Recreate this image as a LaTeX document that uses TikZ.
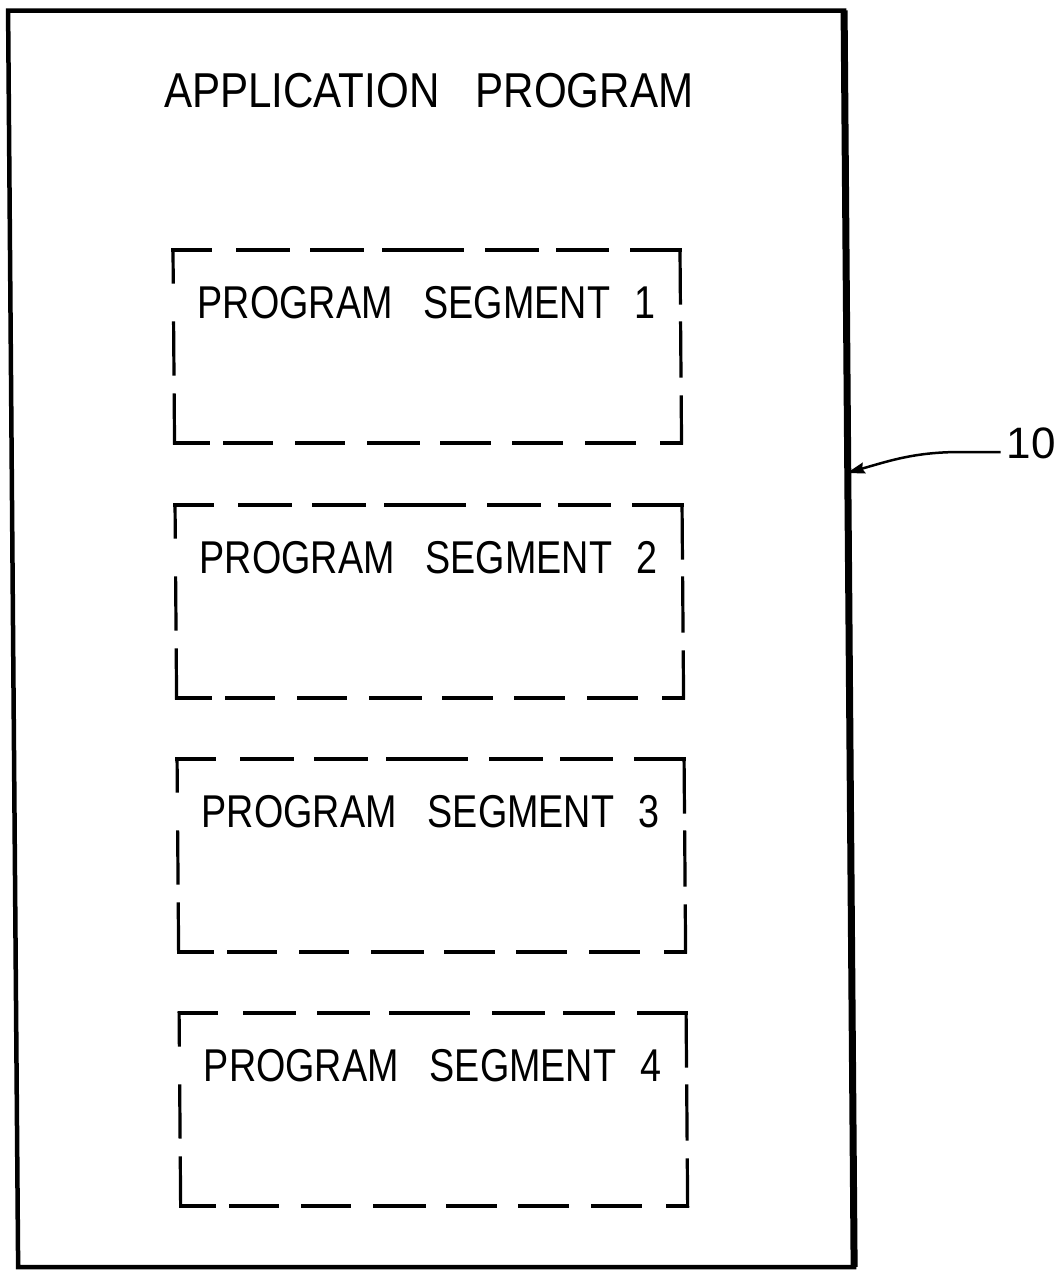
\documentclass[tikz,border=0pt]{standalone}
\usepackage{fontspec}
\setmainfont{Liberation Sans}
\newfontfamily\headfont{Liberation Sans}[FakeStretch=0.86]
\newfontfamily\segfont{Liberation Sans}[FakeStretch=0.82]
\usetikzlibrary{arrows.meta}
\begin{document}
\begin{tikzpicture}[x={(1pt,0pt)}, y={(0.008pt,-1pt)},
  frame/.style={line width=4.5pt, line join=miter, line cap=rect},
  segside/.style={line width=3.2pt, line cap=rect},
  topdash/.style={segside, dash pattern=on 37pt off 28pt on 50pt off 24pt on 50pt off 22pt on 78pt off 25pt on 50pt off 21pt on 49pt off 25pt on 48pt off 40pt},
  botdash/.style={segside, dash pattern=on 34pt off 16pt on 47pt off 25pt on 47pt off 25pt on 50pt off 23pt on 48pt off 24pt on 48pt off 25pt on 48pt off 27pt on 20pt off 40pt},
  leftdash/.style={segside, dash pattern=on 32pt off 41pt on 51pt off 21pt on 48pt off 40pt},
  rightdash/.style={segside, dash pattern=on 53pt off 20pt on 53pt off 21pt on 46pt off 40pt},
  headtext/.style={font=\headfont\fontsize{49pt}{49pt}\selectfont, inner sep=0pt, anchor=base west},
  segtext/.style={font=\segfont\fontsize{46pt}{46pt}\selectfont, inner sep=0pt, anchor=base west},
  reftext/.style={font=\fontsize{44pt}{44pt}\selectfont, inner sep=0pt, anchor=base west},
  leader/.style={line width=2.5pt, -{Stealth[length=18pt,width=11pt,inset=2pt]}}]
\useasboundingbox (0pt,0pt) rectangle (1056pt,-1270pt);
% outer frame
\coordinate (fnw) at (8,10.5);
\coordinate (fne) at (844,10.5);
\coordinate (fse) at (844,1267);
\coordinate (fsw) at (8,1267);
\draw[frame] (fnw) -- (fne) -- (fse) -- (fsw) -- cycle;
\draw[line width=7pt] (fne) -- (fse);
% title
\node[headtext] (title) at (163,107) {APPLICATION\hspace{36pt}PROGRAM};
% segments
\foreach \i/\t in {1/250,2/505,3/759,4/1013}{
  \pgfmathsetmacro\b{\t+193}
  \pgfmathsetmacro\bl{\t+68}
  \coordinate (s\i nw) at (171,\t);
  \coordinate (s\i ne) at (678,\t);
  \coordinate (s\i se) at (678,\b);
  \coordinate (s\i sw) at (171,\b);
  \draw[topdash] (s\i nw) -- (s\i ne);
  \draw[rightdash] (s\i ne) -- (s\i se);
  \draw[botdash] (s\i sw) -- (s\i se);
  \draw[leftdash] (s\i nw) -- (s\i sw);
  \node[segtext] (seg\i) at (195,\bl) {PROGRAM\hspace{31pt}SEGMENT\hspace{24pt}\i};
}
% reference numeral
\node[reftext] (ten) at (1003,458) {10};
\coordinate (tip) at (843,473);
\draw[leader] ([xshift=-6pt,yshift=6pt]ten.base west) -- ++(-40,0) to[out=180,in=16] (tip);
\end{tikzpicture}
\end{document}
